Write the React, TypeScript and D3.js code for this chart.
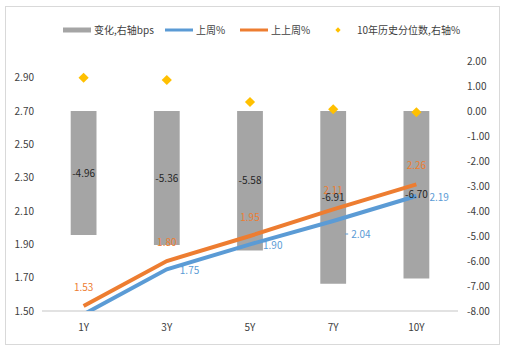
import * as d3 from "d3";

const W = 513;
const H = 352;

const categories = ["1Y", "3Y", "5Y", "7Y", "10Y"];
const changeBps = [-4.96, -5.36, -5.58, -6.91, -6.7];
const lastWeek = [1.48, 1.75, 1.9, 2.04, 2.19];
const prevWeek = [1.53, 1.8, 1.95, 2.11, 2.26];
const percentile = [1.33, 1.24, 0.36, 0.07, -0.05];

const leftTicks = [1.5, 1.7, 1.9, 2.1, 2.3, 2.5, 2.7, 2.9];
const rightTicks = [2, 1, 0, -1, -2, -3, -4, -5, -6, -7, -8];

const GRAY = "#a5a5a5";
const BLUE = "#5b9bd5";
const ORANGE = "#ed7d31";
const GOLD = "#ffc000";
const FONT = "'Noto Sans CJK SC', 'Noto Sans', sans-serif";

const M = { left: 42, right: 458, top: 61, bottom: 311 };

export default function App() {
	const x = d3.scaleBand<string>().domain(categories).range([M.left, M.right]);
	const yL = d3.scaleLinear().domain([1.5, 3.0]).range([M.bottom, M.top]);
	const yR = d3.scaleLinear().domain([-8, 2]).range([M.bottom, M.top]);
	const cx = (c: string) => (x(c) ?? 0) + x.bandwidth() / 2;
	const barW = x.bandwidth() * 0.31;

	const line = d3
		.line<number>()
		.x((_, i) => cx(categories[i]))
		.y((d) => yL(d));

	// square turned 45deg, as Excel draws its diamond marker
	const diamond = d3.symbol(d3.symbolSquare, 52)() ?? "";
	const smallDiamond = d3.symbol(d3.symbolSquare, 14)() ?? "";

	const legend = [
		{ kind: "bar", label: "变化,右轴bps", x: 63 },
		{ kind: "blue", label: "上周%", x: 165 },
		{ kind: "orange", label: "上上周%", x: 240 },
		{ kind: "dot", label: "10年历史分位数,右轴%", x: 331 },
	];

	return (
		<>
			<style>{"body{margin:0}"}</style>
			<svg width={W} height={H} style={{ display: "block", fontFamily: FONT }}>
				<rect x={0} y={0} width={W} height={H} fill="#fff" />
				<rect x={5.5} y={6.5} width={494} height={338} fill="none" stroke="#d9d9d9" />
				<defs>
					<clipPath id="plot">
						<rect x={M.left - 10} y={M.top - 20} width={M.right - M.left + 20} height={M.bottom - M.top + 20} />
					</clipPath>
				</defs>

				{/* legend */}
				{legend.map((l) => (
					<g key={l.label} transform={`translate(${l.x},30)`}>
						{l.kind === "bar" && <rect x={0} y={-2.5} width={28} height={5} fill={GRAY} />}
						{l.kind === "blue" && <line x1={0} x2={28} y1={0} y2={0} stroke={BLUE} strokeWidth={3} />}
						{l.kind === "orange" && <line x1={0} x2={28} y1={0} y2={0} stroke={ORANGE} strokeWidth={3} />}
						{l.kind === "dot" && <path d={smallDiamond} transform="translate(7,0) rotate(45)" fill={GOLD} />}
						<text x={l.kind === "dot" ? 26 : 31} y={0} dy="0.35em" fontSize={10} fill="#404040">
							{l.label}
						</text>
					</g>
				))}

				{/* left axis */}
				{leftTicks.map((t) => (
					<text key={t} x={34} y={yL(t)} dy="0.35em" textAnchor="end" fontSize={10} fill="#404040">
						{t.toFixed(2)}
					</text>
				))}
				{/* right axis */}
				{rightTicks.map((t) => (
					<text key={t} x={467} y={yR(t)} dy="0.35em" fontSize={10} fill="#404040">
						{t.toFixed(2)}
					</text>
				))}

				{/* bars */}
				{categories.map((c, i) => (
					<rect
						key={c}
						x={cx(c) - barW / 2}
						y={yR(0)}
						width={barW}
						height={yR(changeBps[i]) - yR(0)}
						fill={GRAY}
					/>
				))}

				<line x1={M.left} x2={M.right} y1={M.bottom} y2={M.bottom} stroke="#d9d9d9" strokeWidth={1.5} />

				{/* lines */}
				<g clipPath="url(#plot)">
					<path d={line(lastWeek) ?? ""} fill="none" stroke={BLUE} strokeWidth={4} />
					<path d={line(prevWeek) ?? ""} fill="none" stroke={ORANGE} strokeWidth={4} />
				</g>

				{/* percentile diamonds */}
				{categories.map((c, i) => (
					<path key={c} d={diamond} transform={`translate(${cx(c)},${yR(percentile[i])}) rotate(45)`} fill={GOLD} />
				))}

				{/* line labels */}
				{categories.map((c, i) => (
					<text
						key={"o" + c}
						x={cx(c)}
						y={yL(prevWeek[i]) - 19}
						dy="0.35em"
						textAnchor="middle"
						fontSize={10}
						fill={ORANGE}
					>
						{prevWeek[i].toFixed(2)}
					</text>
				))}
				{categories.map((c, i) => {
					if (lastWeek[i] < 1.5) return null;
					const off = c === "7Y" ? 13 : 1;
					return (
						<g key={"b" + c}>
							{c === "7Y" && (
								<line x1={cx(c) + 12} x2={cx(c) + 15} y1={yL(lastWeek[i]) + off} y2={yL(lastWeek[i]) + off} stroke={BLUE} />
							)}
							<text
								x={cx(c) + (c === "7Y" ? 18 : 13)}
								y={yL(lastWeek[i]) + off}
								dy="0.35em"
								fontSize={10}
								fill={BLUE}
							>
								{lastWeek[i].toFixed(2)}
							</text>
						</g>
					);
				})}

				{/* bar labels */}
				{categories.map((c, i) => (
					<text
						key={"v" + c}
						x={cx(c)}
						y={(yR(0) + yR(changeBps[i])) / 2}
						dy="0.35em"
						textAnchor="middle"
						fontSize={10}
						fill="#262626"
					>
						{changeBps[i].toFixed(2)}
					</text>
				))}

				{/* category axis */}
				{categories.map((c) => (
					<text key={c} x={cx(c)} y={327} dy="0.35em" textAnchor="middle" fontSize={10} fill="#404040">
						{c}
					</text>
				))}
			</svg>
		</>
	);
}
